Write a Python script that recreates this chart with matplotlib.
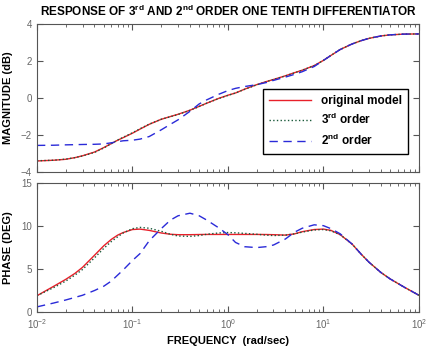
import matplotlib

matplotlib.use("Agg")
import matplotlib.pyplot as plt
from matplotlib.ticker import LogLocator, NullFormatter

plt.rcParams["font.family"] = ["Liberation Sans", "DejaVu Sans"]
plt.rcParams["mathtext.fontset"] = "custom"
plt.rcParams["mathtext.bf"] = "Liberation Sans:bold"
plt.rcParams["mathtext.rm"] = "Liberation Sans:bold"

# frequency points (rad/sec)
freq = [0.01, 0.015, 0.02, 0.025, 0.03, 0.04, 0.05, 0.06, 0.07, 0.08,
        0.1, 0.12, 0.15, 0.2, 0.25, 0.3, 0.4, 0.5, 0.6, 0.8,
        1, 1.2, 1.5, 2, 2.5, 3, 4, 5, 6, 8,
        10, 12, 15, 20, 25, 30, 40, 50, 70, 100]

# magnitude (dB)
mag_orig = [-3.40, -3.36, -3.31, -3.22, -3.12, -2.92, -2.68, -2.46, -2.28, -2.14,
            -1.90, -1.68, -1.42, -1.15, -1.00, -0.88, -0.66, -0.45, -0.28, -0.02,
            0.15, 0.27, 0.48, 0.72, 0.88, 1.00, 1.20, 1.37, 1.50, 1.75,
            2.03, 2.30, 2.62, 2.92, 3.10, 3.22, 3.35, 3.41, 3.45, 3.46]
mag_3rd = [-3.39, -3.36, -3.30, -3.22, -3.13, -2.94, -2.70, -2.47, -2.27, -2.12,
           -1.88, -1.66, -1.41, -1.15, -1.01, -0.89, -0.67, -0.46, -0.28, -0.03,
           0.14, 0.27, 0.47, 0.71, 0.87, 1.00, 1.19, 1.36, 1.50, 1.75,
           2.03, 2.30, 2.62, 2.92, 3.10, 3.22, 3.35, 3.41, 3.45, 3.46]
mag_2nd = [-2.56, -2.55, -2.53, -2.52, -2.51, -2.50, -2.48, -2.42, -2.36, -2.31,
           -2.28, -2.22, -2.08, -1.72, -1.42, -1.18, -0.72, -0.32, -0.10, 0.20,
           0.40, 0.52, 0.62, 0.72, 0.83, 0.95, 1.13, 1.28, 1.42, 1.70,
           2.03, 2.30, 2.62, 2.92, 3.10, 3.22, 3.35, 3.41, 3.45, 3.46]

# phase (deg)
ph_orig = [1.9, 3.0, 3.8, 4.5, 5.2, 6.6, 7.7, 8.45, 8.95, 9.25,
           9.6, 9.65, 9.5, 9.2, 9.05, 9.0, 9.0, 9.02, 9.03, 9.03,
           9.03, 9.03, 9.03, 9.03, 9.02, 9.0, 8.95, 9.1, 9.35, 9.6,
           9.65, 9.5, 9.0, 7.9, 6.7, 5.8, 4.6, 3.85, 2.9, 1.95]
ph_3rd = [1.9, 2.85, 3.6, 4.3, 4.95, 6.3, 7.4, 8.2, 8.75, 9.2,
          9.7, 9.85, 9.75, 9.4, 9.05, 8.85, 8.8, 8.9, 9.05, 9.2,
          9.25, 9.22, 9.15, 9.05, 8.95, 8.9, 8.95, 9.1, 9.3, 9.55,
          9.6, 9.45, 9.0, 7.9, 6.7, 5.8, 4.6, 3.85, 2.9, 1.95]
ph_2nd = [0.6, 1.05, 1.4, 1.7, 1.95, 2.5, 3.0, 3.6, 4.3, 4.9,
          6.0, 6.8, 8.3, 9.7, 10.7, 11.2, 11.5, 11.2, 10.7, 9.8,
          9.0, 8.1, 7.6, 7.5, 7.6, 7.8, 8.5, 9.3, 9.75, 10.15,
          10.05, 9.7, 9.1, 7.9, 6.7, 5.8, 4.6, 3.85, 2.9, 1.95]

C_ORIG = "#e8202a"
C_3RD = "#1a5a3a"
C_2ND = "#2a2ad8"
GREY = "#555555"


def style_axis(ax):
    ax.set_xscale("log")
    ax.set_xlim(0.01, 100)
    ax.xaxis.set_major_locator(LogLocator(base=10, numticks=10))
    ax.xaxis.set_minor_locator(LogLocator(base=10, subs=range(2, 10), numticks=10))
    ax.xaxis.set_minor_formatter(NullFormatter())
    ax.tick_params(which="both", direction="in", top=True, right=True,
                   colors=GREY, labelsize=7, labelcolor="#666666")
    ax.tick_params(which="major", length=4)
    ax.tick_params(which="minor", length=2)
    for sp in ax.spines.values():
        sp.set_color(GREY)
        sp.set_linewidth(0.8)


fig = plt.figure(figsize=(4.35, 3.57), dpi=100)
ax1 = fig.add_axes([0.085, 0.518, 0.878, 0.415])
ax2 = fig.add_axes([0.085, 0.126, 0.878, 0.361])

ax1.plot(freq, mag_orig, color=C_ORIG, lw=1.0, label="original model")
ax1.plot(freq, mag_3rd, color=C_3RD, lw=1.0, ls=":", label=r"3$^{\mathbf{rd}}$ order")
ax1.plot(freq, mag_2nd, color=C_2ND, lw=1.0, ls=(0, (6, 4)), label=r"2$^{\mathbf{nd}}$ order")
style_axis(ax1)
ax1.set_ylim(-4, 4)
ax1.set_yticks([-4, -2, 0, 2, 4])
ax1.tick_params(axis="x", labelbottom=False)
ax1.set_ylabel("MAGNITUDE (dB)", fontsize=8, fontweight="bold", labelpad=6)
ax1.set_title(r"RESPONSE OF 3$^{\mathbf{rd}}$ AND 2$^{\mathbf{nd}}$ ORDER ONE TENTH DIFFERENTIATOR",
              fontsize=8.5, fontweight="bold", pad=6)
leg = ax1.legend(loc="lower right", bbox_to_anchor=(0.986, 0.085), fancybox=False,
                 edgecolor="black", framealpha=1, prop={"weight": "bold", "size": 8.5},
                 handlelength=3.6, borderpad=0.5, labelspacing=0.45)
leg.get_frame().set_linewidth(1.0)

ax2.plot(freq, ph_orig, color=C_ORIG, lw=1.0)
ax2.plot(freq, ph_3rd, color=C_3RD, lw=1.0, ls=":")
ax2.plot(freq, ph_2nd, color=C_2ND, lw=1.0, ls=(0, (6, 4)))
style_axis(ax2)
ax2.set_ylim(0, 15)
ax2.set_yticks([0, 5, 10, 15])
ax2.set_ylabel("PHASE (DEG)", fontsize=8, fontweight="bold", labelpad=6)
ax2.set_xlabel("FREQUENCY  (rad/sec)", fontsize=8, fontweight="bold", labelpad=4)

fig.savefig("out.png", dpi=100)
